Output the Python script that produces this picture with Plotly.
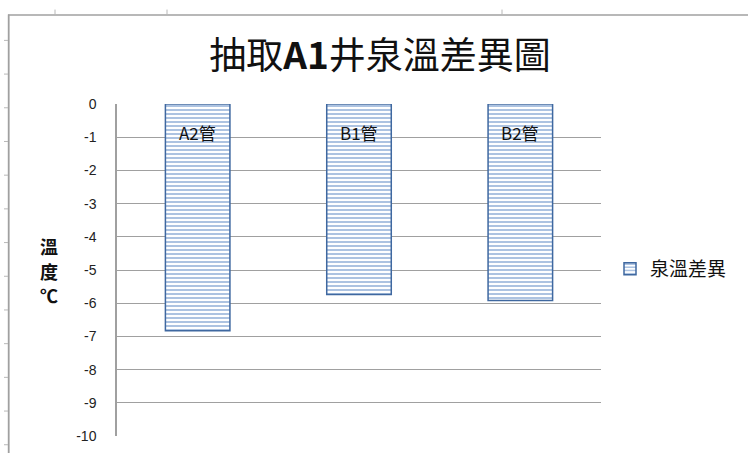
import plotly.graph_objects as go

categories = ["A2管", "B1管", "B2管"]
values = [-6.83, -5.74, -5.92]
series_name = "泉溫差異"
tick_vals = [0, -1, -2, -3, -4, -5, -6, -7, -8, -9, -10]
tick_text = ["0", "-1", "-2", "-3", "-4", "-5", "-6", "-7", "-8", "-9", "-10"]
axis_title_chars = ["溫", "度", "℃"]
label_y = -0.85

L, R, T, B = 117, 147, 104, 18
PW, PH = 748 - L - R, 456 - T - B


def px(x):
    return (x - L) / PW


def py(y):
    return (456 - B - y) / PH


fig = go.Figure()
fig.add_trace(go.Bar(
    x=categories, y=values, name=series_name, width=0.4,
    marker=dict(color="white", line=dict(color="#3f68a0", width=1.5),
                pattern=dict(shape="-", fgcolor="#5b88c4", bgcolor="white", size=4, solidity=0.5)),
    showlegend=True,
))

for c in categories:
    fig.add_annotation(x=c, y=label_y, text=c, showarrow=False,
                       font=dict(family="Noto Sans CJK TC, Liberation Sans", size=17, color="#111"))

for i, yy in enumerate([247, 272, 296]):
    fig.add_annotation(xref="paper", yref="paper", x=px(49), y=py(yy), text="<b>" + axis_title_chars[i] + "</b>",
                       showarrow=False, font=dict(family="Noto Sans CJK TC", size=18, color="#111"),
                       xanchor="center", yanchor="middle")

# spreadsheet frame lines
fig.add_shape(type="rect", xref="paper", yref="paper",
              x0=px(7.8), x1=px(9.6), y0=py(455), y1=py(14),
              line=dict(width=0), fillcolor="#a0a0a0", layer="above")
fig.add_shape(type="line", xref="paper", yref="paper",
              x0=px(8), x1=px(748), y0=py(14.5), y1=py(14.5),
              line=dict(color="#a0a0a0", width=1.5))
for xx in [55, 167, 502]:
    fig.add_shape(type="line", xref="paper", yref="paper", x0=px(xx), x1=px(xx), y0=py(9), y1=py(14),
                  line=dict(color="#b8b8b8", width=1))
for k in range(13):
    yy = 40 + 33.9 * k
    fig.add_shape(type="line", xref="paper", yref="paper", x0=px(4), x1=px(8), y0=py(yy), y1=py(yy),
                  line=dict(color="#b8b8b8", width=1))

fig.update_layout(
    width=748, height=456,
    margin=dict(l=L, r=R, t=T, b=B),
    paper_bgcolor="white", plot_bgcolor="white",
    title=dict(text="抽取<b>A1</b>井泉溫差異圖", x=380 / 748, xanchor="center",
               y=1 - 56 / 456, yanchor="middle",
               font=dict(family="Noto Sans CJK TC", size=37, color="#111")),
    legend=dict(x=px(610), y=py(270), xanchor="left", yanchor="middle", itemwidth=30,
                font=dict(family="Noto Sans CJK TC", size=19, color="#111")),
)
fig.update_xaxes(showticklabels=False, showgrid=False, showline=False, zeroline=False)
fig.update_yaxes(range=[-10, 0], tickvals=tick_vals, ticktext=tick_text, showgrid=True,
                 gridcolor="#a0a0a0", gridwidth=1.2,
                 zeroline=False, showline=True, linecolor="#a0a0a0", linewidth=1.5,
                 ticks="", ticklabelstandoff=16,
                 tickfont=dict(family="Liberation Sans", size=14, color="#222"))

fig.write_html("out.html")
